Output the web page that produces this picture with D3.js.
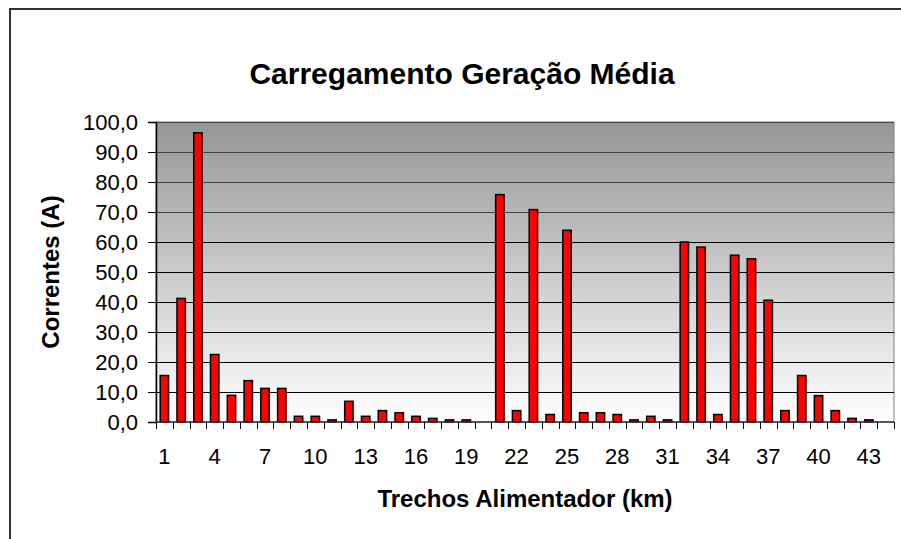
<!DOCTYPE html>
<html>
<head>
<meta charset="utf-8">
<script src="https://cdn.jsdelivr.net/npm/d3@7"></script>
<style>
  body { margin: 0; background: #fff; }
  svg { display: block; font-family: Arial, "Liberation Sans", sans-serif; }
</style>
</head>
<body>
<svg id="chart" width="901" height="539"></svg>
<script>
// trechos do alimentador (1..44) e correntes
const trechos = d3.range(1, 45)
const correntes = [15.5, 41.2, 96.4, 22.5, 8.9, 13.8, 11.2, 11.2, 1.9, 1.9,
    0.7, 6.9, 1.9, 3.8, 3.1, 1.9, 1.2, 0.7, 0.7, 0,
    75.8, 3.8, 70.8, 2.5, 63.9, 3.1, 3.1, 2.5, 0.7, 1.9,
    0.7, 60.0, 58.3, 2.5, 55.6, 54.4, 40.6, 3.8, 15.5, 8.8,
    3.8, 1.2, 0.7, 0]
const yTicks = [0, 10, 20, 30, 40, 50, 60, 70, 80, 90, 100]
const xLabels = [1, 4, 7, 10, 13, 16, 19, 22, 25, 28, 31, 34, 37, 40, 43]

const titulo = "Carregamento Geração Média"
const tituloX = "Trechos Alimentador (km)"
const tituloY = "Correntes (A)"

const svg = d3.select("#chart")
const plot = { left: 156, top: 122, right: 894, bottom: 422 }

const br = d3.formatLocale({ decimal: ",", thousands: ".", grouping: [3], currency: ["", ""] })
const fmt = br.format(".1f")

// moldura externa do grafico
svg.append("rect")
    .attr("x", 10).attr("y", 9)
    .attr("width", 1000).attr("height", 1000)
    .attr("fill", "none")
    .attr("stroke", "#333")
    .attr("stroke-width", 2)

let defs = svg.append("defs")
let grad = defs.append("linearGradient")
    .attr("id", "fundo")
    .attr("x1", 0).attr("y1", 0).attr("x2", 0).attr("y2", 1)
grad.append("stop").attr("offset", "0%").attr("stop-color", "#969696")
grad.append("stop").attr("offset", "100%").attr("stop-color", "#ffffff")

let x = d3.scaleBand()
    .domain(trechos)
    .range([plot.left, plot.right])
    .paddingInner(0.5)
    .paddingOuter(0.25)

// escala sem padding para os ticks nas divisas das categorias
let xEdge = d3.scaleBand()
    .domain(trechos)
    .range([plot.left, plot.right])

let y = d3.scaleLinear()
    .domain([0, 100])
    .range([plot.bottom, plot.top])

svg.append("rect")
    .attr("x", plot.left).attr("y", plot.top)
    .attr("width", plot.right - plot.left)
    .attr("height", plot.bottom - plot.top)
    .attr("fill", "url(#fundo)")
    .attr("stroke", "#808080")
    .attr("stroke-width", 1)

// linhas de grade
svg.append("g")
    .selectAll("line")
    .data(yTicks.slice(1))
    .enter()
    .append("line")
    .attr("x1", plot.left).attr("x2", plot.right)
    .attr("y1", d => Math.round(y(d)) + 0.5)
    .attr("y2", d => Math.round(y(d)) + 0.5)
    .attr("stroke", d => d >= 70 ? "#444" : "#000")
    .attr("stroke-width", 1)

// barras
svg.append("g")
    .selectAll("rect")
    .data(correntes)
    .enter()
    .append("rect")
    .attr("x", (d, i) => x(trechos[i]))
    .attr("y", d => y(d))
    .attr("width", x.bandwidth())
    .attr("height", d => plot.bottom - y(d))
    .attr("fill", d => d > 0 ? "#ff0000" : "none")
    .attr("stroke", d => d > 0 ? "#000" : "none")
    .attr("stroke-width", 1.5)

// eixo Y
let yAxis = d3.axisLeft(y)
    .tickValues(yTicks)
    .tickSize(8)
    .tickPadding(10)
    .tickFormat(fmt)

let gy = svg.append("g")
    .attr("transform", "translate(" + plot.left + ",0)")
    .call(yAxis)
gy.select(".domain").attr("stroke", "#000").attr("stroke-width", 1.5)
gy.selectAll(".tick line").attr("stroke", "#000")
gy.selectAll(".tick text")
    .attr("font-size", 22)
    .attr("fill", "#000")
    .attr("font-family", "Arial, 'Liberation Sans', sans-serif")

// eixo X: ticks nas divisas, rotulos a cada 3 trechos
let gx = svg.append("g")
gx.append("line")
    .attr("x1", plot.left).attr("x2", plot.right)
    .attr("y1", plot.bottom).attr("y2", plot.bottom)
    .attr("stroke", "#333")
    .attr("stroke-width", 1.5)

let edges = trechos.map(t => xEdge(t)).concat([plot.right])
gx.selectAll(".xtick")
    .data(edges)
    .enter()
    .append("line")
    .attr("class", "xtick")
    .attr("x1", d => Math.round(d) + 0.5).attr("x2", d => Math.round(d) + 0.5)
    .attr("y1", plot.bottom).attr("y2", plot.bottom + 7)
    .attr("stroke", "#000")

gx.selectAll(".xlabel")
    .data(xLabels)
    .enter()
    .append("text")
    .attr("class", "xlabel")
    .attr("x", d => xEdge(d) + xEdge.bandwidth() / 2)
    .attr("y", 464)
    .attr("text-anchor", "middle")
    .attr("font-size", 22)
    .text(d => d)

// titulos
svg.append("text")
    .attr("x", 462).attr("y", 84)
    .attr("text-anchor", "middle")
    .attr("font-size", 30)
    .attr("font-weight", "bold")
    .text(titulo)

svg.append("text")
    .attr("x", (plot.left + plot.right) / 2).attr("y", 507)
    .attr("text-anchor", "middle")
    .attr("font-size", 24)
    .attr("font-weight", "bold")
    .text(tituloX)

svg.append("text")
    .attr("transform", "translate(59," + (plot.top + plot.bottom) / 2 + ") rotate(-90)")
    .attr("text-anchor", "middle")
    .attr("font-size", 24)
    .attr("font-weight", "bold")
    .text(tituloY)
</script>
</body>
</html>
